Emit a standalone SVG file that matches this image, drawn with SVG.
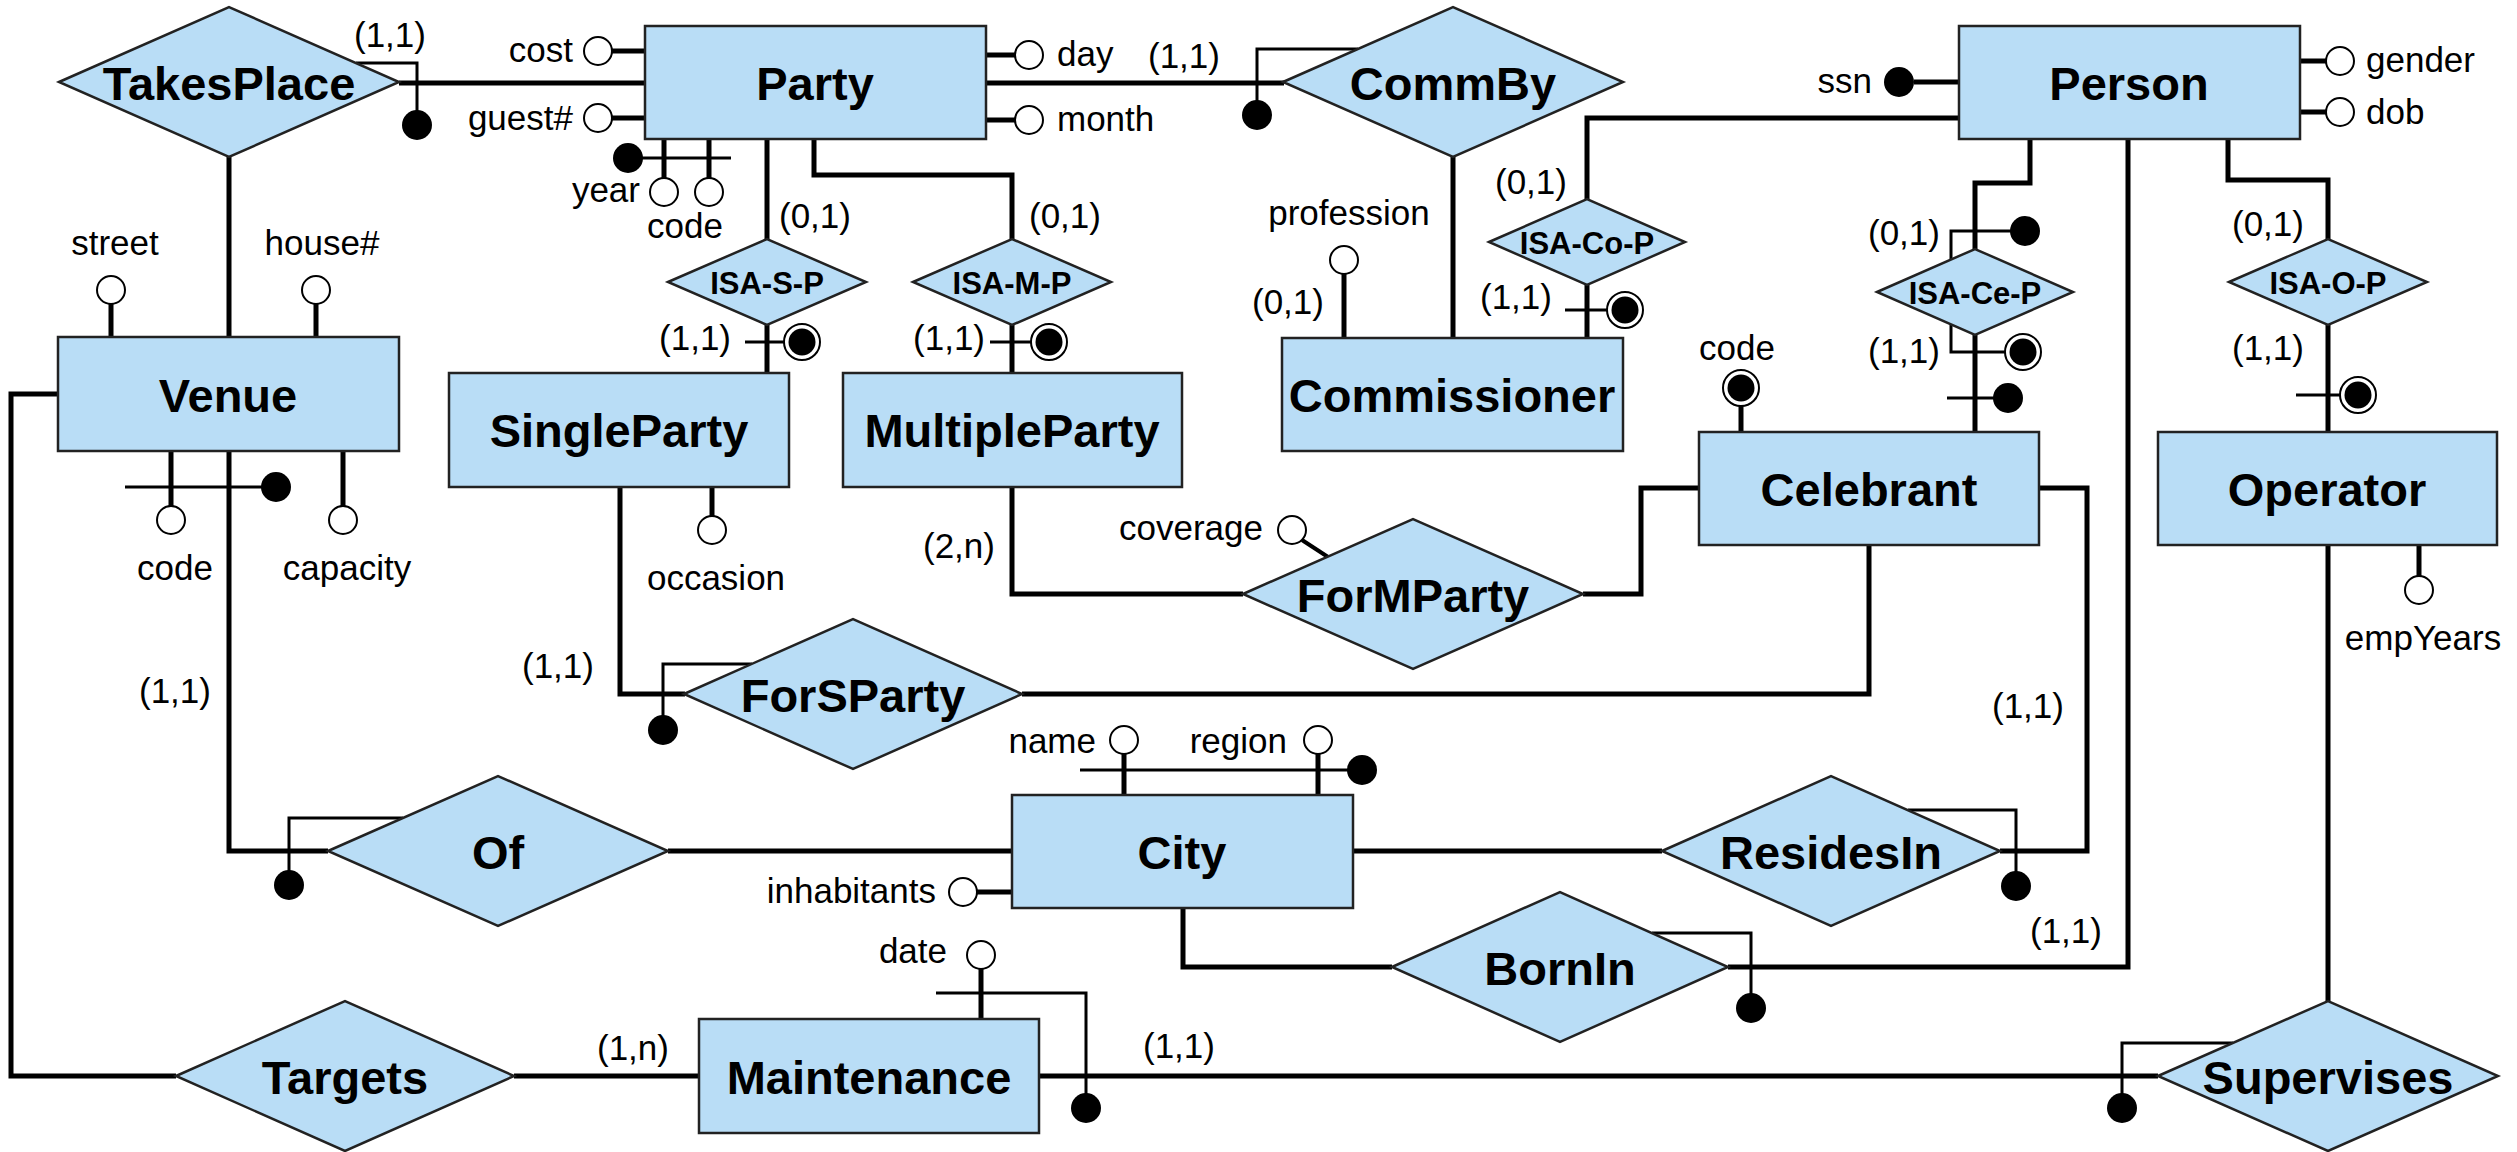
<svg xmlns="http://www.w3.org/2000/svg" width="2517" height="1152" viewBox="0 0 2517 1152">
<style>
.ent{fill:#B9DDF6;stroke:#222;stroke-width:2.5}
.rel{fill:#B9DDF6;stroke:#222;stroke-width:2.5}
.lbl{font-family:"Liberation Sans",Arial,sans-serif;font-weight:bold;font-size:47px;text-anchor:middle;fill:#000}
.isa{font-family:"Liberation Sans",Arial,sans-serif;font-weight:bold;font-size:31px;text-anchor:middle;fill:#000}
.t{font-family:"Liberation Sans",Arial,sans-serif;font-size:35px;fill:#000}
.m{text-anchor:middle}
.e{text-anchor:end}
.k{fill:none;stroke:#000;stroke-width:5}
.n{fill:none;stroke:#000;stroke-width:3}
.a{fill:#fff;stroke:#000;stroke-width:2}
.d{fill:#000}
</style>
<defs>
<g id="dc"><circle r="18" fill="#fff" stroke="#000" stroke-width="2"/><circle r="13.5" fill="#000"/></g>
</defs>
<g id="connectors">
<!-- main lines -->
<path class="k" d="M399 83H645"/>
<path class="k" d="M986 83H1284"/>
<path class="k" d="M1453 157V338"/>
<path class="k" d="M229 157V337"/>
<path class="k" d="M767 139V239"/>
<path class="k" d="M767 325V373"/>
<path class="k" d="M814 139V175H1012V239"/>
<path class="k" d="M1012 325V373"/>
<path class="k" d="M1959 118H1587V199"/>
<path class="k" d="M1587 285V338"/>
<path class="k" d="M2030 139V183H1975V249"/>
<path class="k" d="M1975 335V432"/>
<path class="k" d="M2228 139V180H2328V239"/>
<path class="k" d="M2328 325V432"/>
<path class="k" d="M2128 139V967H1728"/>
<path class="k" d="M2328 545V1002"/>
<path class="k" d="M58 394H11V1076H176"/>
<path class="k" d="M229 451V851H328"/>
<path class="k" d="M668 851H1012"/>
<path class="k" d="M1353 851H1662"/>
<path class="k" d="M1183 908V967H1392"/>
<path class="k" d="M514 1076H699"/>
<path class="k" d="M1039 1076H2158"/>
<path class="k" d="M620 487V694H685"/>
<path class="k" d="M1012 487V594H1243"/>
<path class="k" d="M1699 488H1641V594H1583"/>
<path class="k" d="M1869 545V694H1022"/>
<path class="k" d="M2039 488H2087V851H2000"/>
<!-- attribute stems -->
<path class="k" d="M612 51H645M612 118H645M986 55H1015M986 120H1015"/>
<path class="k" d="M664 139V178M709 139V178"/>
<path class="k" d="M1914 82H1959M2300 61H2326M2300 112H2326"/>
<path class="k" d="M111 304V337M316 304V337"/>
<path class="k" d="M171 451V506M343 451V506"/>
<path class="k" d="M712 487V516"/>
<path class="k" d="M1344 274V338"/>
<path class="k" d="M1741 406V432"/>
<path class="k" d="M2419 545V576"/>
<path class="k" d="M1124 754V795M1318 754V795"/>
<path class="k" d="M977 892H1012"/>
<path class="k" d="M981 969V1019"/>
<path class="n" d="M1302 540L1328 557" style="stroke-width:4"/>
<!-- identifier bars and brackets -->
<path class="n" d="M628 158H731"/>
<path class="n" d="M125 487H276"/>
<path class="n" d="M1080 770H1362"/>
<path class="n" d="M936 993H1086V1108"/>
<path class="n" d="M356 63H417V125"/>
<path class="n" d="M1358 49H1257V115"/>
<path class="n" d="M1951 259V231H2025"/>
<path class="n" d="M1951 325V352H2023"/>
<path class="n" d="M1947 398H2008"/>
<path class="n" d="M745 342H802"/>
<path class="n" d="M990 342H1049"/>
<path class="n" d="M1565 310H1625"/>
<path class="n" d="M2296 395H2358"/>
<path class="n" d="M752 664H663V730"/>
<path class="n" d="M403 818H289V885"/>
<path class="n" d="M1908 810H2016V886"/>
<path class="n" d="M1652 933H1751V1008"/>
<path class="n" d="M2233 1043H2122V1108"/>
</g>
<g id="markers">
<circle class="d" cx="417" cy="125" r="15"/>
<circle class="d" cx="1257" cy="115" r="15"/>
<circle class="d" cx="628" cy="158" r="15"/>
<circle class="d" cx="276" cy="487" r="15"/>
<circle class="d" cx="1362" cy="770" r="15"/>
<circle class="d" cx="1086" cy="1108" r="15"/>
<circle class="d" cx="2025" cy="231" r="15"/>
<circle class="d" cx="2008" cy="398" r="15"/>
<circle class="d" cx="663" cy="730" r="15"/>
<circle class="d" cx="289" cy="885" r="15"/>
<circle class="d" cx="2016" cy="886" r="15"/>
<circle class="d" cx="1751" cy="1008" r="15"/>
<circle class="d" cx="2122" cy="1108" r="15"/>
<circle class="d" cx="1899" cy="82" r="15"/>
<use href="#dc" x="802" y="342"/>
<use href="#dc" x="1049" y="342"/>
<use href="#dc" x="1625" y="310"/>
<use href="#dc" x="2023" y="352"/>
<use href="#dc" x="2358" y="395"/>
<use href="#dc" x="1741" y="388"/>
<circle class="a" cx="598" cy="51" r="14"/>
<circle class="a" cx="598" cy="118" r="14"/>
<circle class="a" cx="1029" cy="55" r="14"/>
<circle class="a" cx="1029" cy="120" r="14"/>
<circle class="a" cx="664" cy="192" r="14"/>
<circle class="a" cx="709" cy="192" r="14"/>
<circle class="a" cx="2340" cy="61" r="14"/>
<circle class="a" cx="2340" cy="112" r="14"/>
<circle class="a" cx="111" cy="290" r="14"/>
<circle class="a" cx="316" cy="290" r="14"/>
<circle class="a" cx="171" cy="520" r="14"/>
<circle class="a" cx="343" cy="520" r="14"/>
<circle class="a" cx="712" cy="530" r="14"/>
<circle class="a" cx="1344" cy="260" r="14"/>
<circle class="a" cx="2419" cy="590" r="14"/>
<circle class="a" cx="1292" cy="530" r="14"/>
<circle class="a" cx="1124" cy="740" r="14"/>
<circle class="a" cx="1318" cy="740" r="14"/>
<circle class="a" cx="963" cy="892" r="14"/>
<circle class="a" cx="981" cy="955" r="14"/>
</g>
<g id="Party"><rect class="ent" x="645" y="26" width="341" height="113"/><text class="lbl" x="815" y="100">Party</text></g>
<g id="Person"><rect class="ent" x="1959" y="26" width="341" height="113"/><text class="lbl" x="2129" y="100">Person</text></g>
<g id="Venue"><rect class="ent" x="58" y="337" width="341" height="114"/><text class="lbl" x="228" y="412">Venue</text></g>
<g id="SingleParty"><rect class="ent" x="449" y="373" width="340" height="114"/><text class="lbl" x="619" y="447">SingleParty</text></g>
<g id="MultipleParty"><rect class="ent" x="843" y="373" width="339" height="114"/><text class="lbl" x="1012" y="447">MultipleParty</text></g>
<g id="Commissioner"><rect class="ent" x="1282" y="338" width="341" height="113"/><text class="lbl" x="1452" y="412">Commissioner</text></g>
<g id="Celebrant"><rect class="ent" x="1699" y="432" width="340" height="113"/><text class="lbl" x="1869" y="506">Celebrant</text></g>
<g id="Operator"><rect class="ent" x="2158" y="432" width="339" height="113"/><text class="lbl" x="2327" y="506">Operator</text></g>
<g id="City"><rect class="ent" x="1012" y="795" width="341" height="113"/><text class="lbl" x="1182" y="869">City</text></g>
<g id="Maintenance"><rect class="ent" x="699" y="1019" width="340" height="114"/><text class="lbl" x="869" y="1094">Maintenance</text></g>
<g id="TakesPlace"><polygon class="rel" points="59,82 229,7 399,82 229,157"/><text class="lbl" x="229" y="100">TakesPlace</text></g>
<g id="CommBy"><polygon class="rel" points="1283,82 1453,7 1623,82 1453,157"/><text class="lbl" x="1453" y="100">CommBy</text></g>
<g id="ForMParty"><polygon class="rel" points="1243,594 1413,519 1583,594 1413,669"/><text class="lbl" x="1413" y="612">ForMParty</text></g>
<g id="ForSParty"><polygon class="rel" points="684,694 853,619 1022,694 853,769"/><text class="lbl" x="853" y="712">ForSParty</text></g>
<g id="Of"><polygon class="rel" points="328,851 498,776 668,851 498,926"/><text class="lbl" x="498" y="869">Of</text></g>
<g id="ResidesIn"><polygon class="rel" points="1662,851 1831,776 2000,851 1831,926"/><text class="lbl" x="1831" y="869">ResidesIn</text></g>
<g id="BornIn"><polygon class="rel" points="1392,967 1560,892 1728,967 1560,1042"/><text class="lbl" x="1560" y="985">BornIn</text></g>
<g id="Targets"><polygon class="rel" points="176,1076 345,1001 514,1076 345,1151"/><text class="lbl" x="345" y="1094">Targets</text></g>
<g id="Supervises"><polygon class="rel" points="2158,1076 2328,1001 2498,1076 2328,1151"/><text class="lbl" x="2328" y="1094">Supervises</text></g>
<g id="ISA-S-P"><polygon class="rel" points="668,282 767,239 866,282 767,325"/><text class="isa" x="767" y="294">ISA-S-P</text></g>
<g id="ISA-M-P"><polygon class="rel" points="913,282 1012,239 1111,282 1012,325"/><text class="isa" x="1012" y="294">ISA-M-P</text></g>
<g id="ISA-Co-P"><polygon class="rel" points="1489,242 1587,199 1685,242 1587,285"/><text class="isa" x="1587" y="254">ISA-Co-P</text></g>
<g id="ISA-Ce-P"><polygon class="rel" points="1877,292 1975,249 2073,292 1975,335"/><text class="isa" x="1975" y="304">ISA-Ce-P</text></g>
<g id="ISA-O-P"><polygon class="rel" points="2229,282 2328,239 2427,282 2328,325"/><text class="isa" x="2328" y="294">ISA-O-P</text></g>
<g id="labels">
<text class="t" x="354" y="47">(1,1)</text>
<text class="t e" x="573" y="62">cost</text>
<text class="t e" x="573" y="130">guest#</text>
<text class="t" x="1057" y="66">day</text>
<text class="t" x="1057" y="131">month</text>
<text class="t" x="1148" y="68">(1,1)</text>
<text class="t e" x="1872" y="93">ssn</text>
<text class="t" x="2366" y="72">gender</text>
<text class="t" x="2366" y="124">dob</text>
<text class="t e" x="640" y="202">year</text>
<text class="t m" x="685" y="238">code</text>
<text class="t" x="779" y="228">(0,1)</text>
<text class="t" x="1029" y="228">(0,1)</text>
<text class="t e" x="731" y="350">(1,1)</text>
<text class="t e" x="985" y="350">(1,1)</text>
<text class="t m" x="115" y="255">street</text>
<text class="t m" x="322" y="255">house#</text>
<text class="t m" x="1349" y="225">profession</text>
<text class="t" x="1252" y="314">(0,1)</text>
<text class="t" x="1495" y="194">(0,1)</text>
<text class="t" x="1480" y="309">(1,1)</text>
<text class="t" x="1868" y="245">(0,1)</text>
<text class="t" x="1868" y="363">(1,1)</text>
<text class="t m" x="1737" y="360">code</text>
<text class="t" x="2232" y="236">(0,1)</text>
<text class="t" x="2232" y="360">(1,1)</text>
<text class="t m" x="175" y="580">code</text>
<text class="t m" x="347" y="580">capacity</text>
<text class="t m" x="716" y="590">occasion</text>
<text class="t" x="139" y="703">(1,1)</text>
<text class="t" x="522" y="678">(1,1)</text>
<text class="t" x="923" y="558">(2,n)</text>
<text class="t e" x="1263" y="540">coverage</text>
<text class="t m" x="2423" y="650">empYears</text>
<text class="t" x="1992" y="718">(1,1)</text>
<text class="t e" x="1096" y="753">name</text>
<text class="t e" x="1287" y="753">region</text>
<text class="t e" x="936" y="903">inhabitants</text>
<text class="t e" x="947" y="963">date</text>
<text class="t" x="597" y="1060">(1,n)</text>
<text class="t" x="1143" y="1058">(1,1)</text>
<text class="t" x="2030" y="943">(1,1)</text>
</g>
</svg>
